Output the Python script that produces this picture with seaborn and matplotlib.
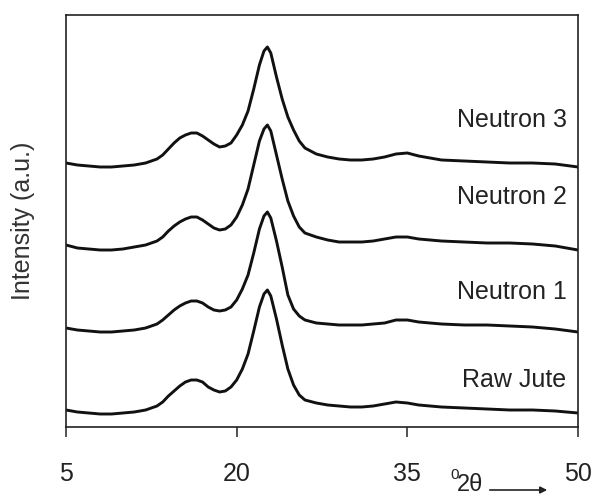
import matplotlib
matplotlib.use("Agg")
import matplotlib.pyplot as plt
import numpy as np
import pandas as pd
import seaborn as sns

# Diffraction angle (degrees 2-theta)
two_theta = [5, 6, 7, 8, 9, 10, 11, 12, 13, 13.5, 14, 14.5, 15, 15.5, 16, 16.5,
             17, 17.5, 18, 18.5, 19, 19.5, 20, 20.5, 21, 21.5, 22, 22.4, 22.7,
             23, 23.5, 24, 24.5, 25, 25.5, 26, 27, 28, 29, 30, 31, 32, 33, 34,
             35, 36, 37, 38, 40, 42, 44, 46, 48, 50]

# Stacked intensity traces (arbitrary units, already offset)
neutron_3 = [264, 262, 261, 260, 260, 261, 262, 264, 268, 272, 278, 284, 289, 292,
             294, 294, 291, 287, 283, 280, 281, 284, 292, 302, 316, 338, 362, 376,
             380, 374, 350, 328, 310, 297, 286, 279, 273, 270, 268, 267, 267, 268,
             270, 273, 274, 271, 269, 267, 266, 265, 264, 264, 263, 260]
neutron_2 = [182, 179, 178, 177, 177, 178, 180, 182, 186, 190, 196, 201, 205, 208,
             210, 210, 207, 203, 199, 197, 198, 202, 210, 222, 238, 262, 286, 298,
             302, 296, 272, 248, 226, 211, 200, 194, 190, 187, 185, 185, 185, 186,
             188, 190, 190, 188, 187, 186, 185, 184, 184, 183, 181, 177]
neutron_1 = [99, 97, 96, 95, 95, 96, 97, 99, 103, 107, 112, 117, 121, 124, 126,
             126, 124, 120, 117, 116, 117, 120, 127, 138, 152, 174, 198, 211, 215,
             209, 186, 160, 132, 118, 111, 107, 104, 103, 102, 102, 102, 103, 104,
             107, 107, 105, 104, 103, 102, 102, 101, 100, 98, 95]
raw_jute = [17, 15, 14, 13, 13, 14, 15, 17, 21, 25, 31, 36, 41, 45, 47, 47, 45,
            40, 37, 35, 36, 40, 47, 58, 73, 96, 120, 133, 137, 131, 108, 82, 58,
            42, 32, 27, 24, 22, 21, 20, 20, 21, 23, 25, 24, 22, 21, 20, 19, 18,
            17, 17, 16, 14]

sample_names = ["Neutron 3", "Neutron 2", "Neutron 1", "Raw Jute"]
label_heights = [307, 230, 135, 47]
x_ticks = [5, 20, 35, 50]

series = [neutron_3, neutron_2, neutron_1, raw_jute]
df = pd.concat(
    [pd.DataFrame({"two_theta": two_theta, "intensity": vals, "sample": name})
     for name, vals in zip(sample_names, series)],
    ignore_index=True,
)

sns.set_style("white")
plt.rcParams["font.family"] = ["Liberation Sans", "DejaVu Sans"]

W, H = 593, 498
fig = plt.figure(figsize=(W / 100, H / 100), dpi=100)
ax = fig.add_axes([66 / W, (H - 427) / H, (578 - 66) / W, (427 - 15) / H])

sns.lineplot(data=df, x="two_theta", y="intensity", hue="sample",
             palette=["#111111"] * 4, linewidth=2.1, legend=False,
             sort=False, ax=ax)

ax.set_xlim(5, 50)
ax.set_ylim(0, 412)
ax.set_xticks(x_ticks)
ax.set_xticklabels([str(t) for t in x_ticks])
ax.set_yticks([])
ax.tick_params(axis="x", direction="out", length=7.5, width=1.1,
               pad=18, labelsize=18, colors="#222222", bottom=True)
for side in ["left", "right", "top", "bottom"]:
    ax.spines[side].set_visible(True)
    ax.spines[side].set_color("#222222")
    ax.spines[side].set_linewidth(1.2)

ax.set_xlabel("")
ax.set_ylabel("Intensity (a.u.)", fontsize=18, color="#333333", labelpad=22)

for name, yv in zip(sample_names, label_heights):
    ax.text(49.0, yv, name, ha="right", va="center", fontsize=18,
            color="#222222")

# Axis caption: superscript 0, 2θ and an arrow pointing to higher angles
fig.text(450 / W, 1 - 468 / H, "0", fontsize=11, color="#222222",
         ha="left", va="top")
fig.text(457 / W, 1 - 496 / H, "2θ", fontsize=17, color="#222222",
         ha="left", va="bottom")
fig.add_artist(matplotlib.patches.FancyArrowPatch(
    (487 / W, 1 - 490 / H), (550 / W, 1 - 490 / H),
    transform=fig.transFigure, arrowstyle="-|>", mutation_scale=10,
    color="#222222", linewidth=1.2))

fig.savefig("out.png", dpi=100, facecolor="white")
